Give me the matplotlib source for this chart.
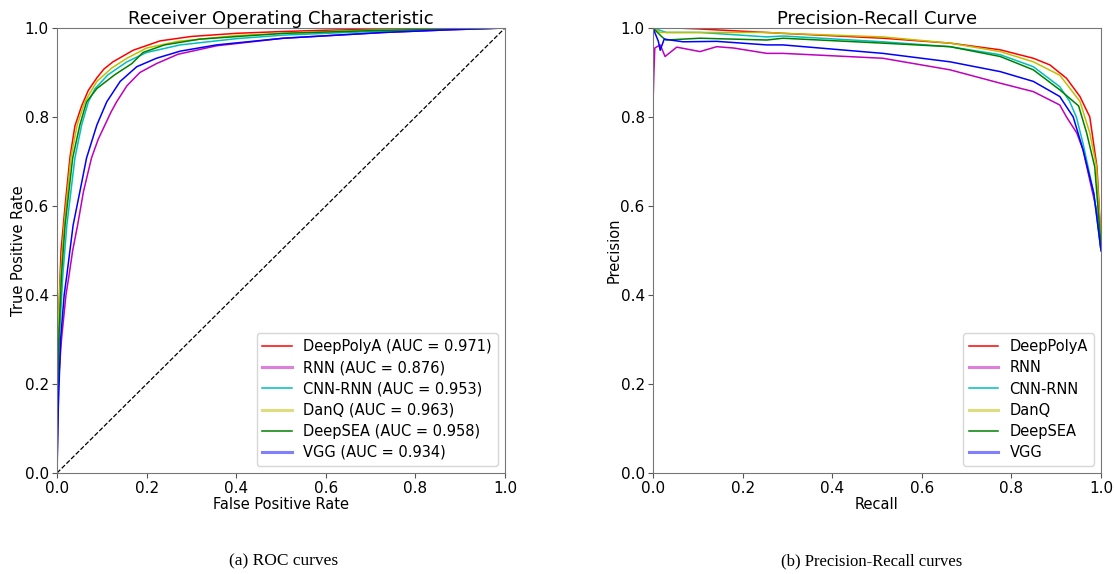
import matplotlib
matplotlib.use("Agg")
import matplotlib.pyplot as plt

models = ["DeepPolyA", "RNN", "CNN-RNN", "DanQ", "DeepSEA", "VGG"]
aucs = [0.971, 0.876, 0.953, 0.963, 0.958, 0.934]
colors = ["r", "m", "c", "y", "g", "b"]

# ROC curves (false positive rate, true positive rate)
roc_fpr_deeppolya = [0, 0.0, 0.002, 0.007, 0.009, 0.018, 0.029, 0.04, 0.055, 0.07, 0.089, 0.105, 0.125, 0.17, 0.23, 0.3, 0.4, 0.5, 0.6, 0.7, 0.8, 0.9, 1.0]
roc_tpr_deeppolya = [0, 0.15, 0.3, 0.445, 0.5, 0.6, 0.71, 0.78, 0.825, 0.86, 0.888, 0.908, 0.924, 0.95, 0.971, 0.981, 0.988, 0.992, 0.995, 0.997, 0.998, 0.999, 1.0]
roc_fpr_rnn = [0, 0.003, 0.01, 0.02, 0.027, 0.035, 0.046, 0.059, 0.077, 0.092, 0.107, 0.12, 0.133, 0.156, 0.185, 0.222, 0.27, 0.356, 0.505, 0.73, 0.877, 1.0]
roc_tpr_rnn = [0, 0.2, 0.3, 0.4, 0.445, 0.5, 0.557, 0.632, 0.708, 0.75, 0.782, 0.81, 0.834, 0.87, 0.9, 0.92, 0.941, 0.96, 0.977, 0.99, 0.996, 1.0]
roc_fpr_cnnrnn = [0, 0.001, 0.005, 0.013, 0.022, 0.04, 0.055, 0.07, 0.085, 0.114, 0.156, 0.2, 0.275, 0.4, 0.505, 0.65, 0.8, 1.0]
roc_tpr_cnnrnn = [0, 0.15, 0.3, 0.445, 0.557, 0.708, 0.782, 0.834, 0.864, 0.895, 0.924, 0.945, 0.962, 0.976, 0.984, 0.99, 0.995, 1.0]
roc_fpr_danq = [0, 0.0, 0.002, 0.008, 0.016, 0.031, 0.045, 0.062, 0.089, 0.122, 0.156, 0.2, 0.27, 0.4, 0.55, 0.7, 0.85, 1.0]
roc_tpr_danq = [0, 0.2, 0.32, 0.445, 0.557, 0.708, 0.782, 0.834, 0.88, 0.91, 0.932, 0.955, 0.97, 0.983, 0.99, 0.995, 0.998, 1.0]
roc_fpr_deepsea = [0, 0.001, 0.004, 0.01, 0.018, 0.035, 0.051, 0.066, 0.089, 0.129, 0.167, 0.192, 0.24, 0.319, 0.505, 0.7, 0.85, 1.0]
roc_tpr_deepsea = [0, 0.15, 0.3, 0.445, 0.557, 0.708, 0.782, 0.834, 0.864, 0.895, 0.92, 0.945, 0.962, 0.975, 0.988, 0.994, 0.997, 1.0]
roc_fpr_vgg = [0, 0.003, 0.008, 0.016, 0.022, 0.036, 0.051, 0.066, 0.089, 0.111, 0.141, 0.178, 0.222, 0.275, 0.356, 0.505, 0.73, 0.877, 1.0]
roc_tpr_vgg = [0, 0.15, 0.3, 0.4, 0.445, 0.557, 0.632, 0.708, 0.782, 0.834, 0.88, 0.913, 0.932, 0.948, 0.962, 0.977, 0.99, 0.996, 1.0]

# Precision-recall curves (recall, precision)
pr_rec_deeppolya = [0, 0.05, 0.1, 0.29, 0.513, 0.663, 0.775, 0.849, 0.886, 0.923, 0.953, 0.975, 0.991, 0.998, 1.0]
pr_prec_deeppolya = [1.0, 1.0, 0.998, 0.988, 0.977, 0.966, 0.951, 0.932, 0.917, 0.887, 0.846, 0.80, 0.688, 0.56, 0.5]
pr_rec_rnn = [0, 0.002, 0.004, 0.016, 0.027, 0.053, 0.105, 0.142, 0.18, 0.254, 0.29, 0.513, 0.663, 0.775, 0.849, 0.908, 0.923, 0.946, 0.96, 0.975, 0.99, 1.0]
pr_prec_rnn = [0.83, 0.9, 0.955, 0.962, 0.936, 0.957, 0.947, 0.958, 0.955, 0.943, 0.943, 0.932, 0.906, 0.876, 0.857, 0.827, 0.80, 0.764, 0.726, 0.658, 0.591, 0.5]
pr_rec_cnnrnn = [0, 0.03, 0.105, 0.254, 0.29, 0.513, 0.663, 0.775, 0.849, 0.908, 0.93, 0.945, 0.96, 0.984, 1.0]
pr_prec_cnnrnn = [1.0, 0.99, 0.99, 0.98, 0.982, 0.969, 0.958, 0.94, 0.913, 0.868, 0.835, 0.80, 0.74, 0.628, 0.5]
pr_rec_danq = [0, 0.016, 0.067, 0.254, 0.29, 0.513, 0.663, 0.775, 0.849, 0.908, 0.953, 0.975, 0.99, 1.0]
pr_prec_danq = [1.0, 0.99, 0.99, 0.99, 0.988, 0.98, 0.966, 0.947, 0.924, 0.894, 0.835, 0.764, 0.688, 0.52]
pr_rec_deepsea = [0, 0.02, 0.029, 0.105, 0.254, 0.29, 0.513, 0.663, 0.775, 0.849, 0.908, 0.95, 0.968, 0.986, 1.0]
pr_prec_deepsea = [1.0, 0.98, 0.973, 0.977, 0.973, 0.977, 0.966, 0.958, 0.936, 0.906, 0.861, 0.825, 0.764, 0.688, 0.51]
pr_rec_vgg = [0, 0.012, 0.016, 0.025, 0.067, 0.142, 0.254, 0.29, 0.513, 0.663, 0.775, 0.849, 0.908, 0.938, 0.96, 0.984, 1.0]
pr_prec_vgg = [1.0, 0.97, 0.95, 0.975, 0.969, 0.97, 0.962, 0.962, 0.943, 0.924, 0.902, 0.88, 0.846, 0.80, 0.726, 0.628, 0.5]

roc_data = [
    (roc_fpr_deeppolya, roc_tpr_deeppolya),
    (roc_fpr_rnn, roc_tpr_rnn),
    (roc_fpr_cnnrnn, roc_tpr_cnnrnn),
    (roc_fpr_danq, roc_tpr_danq),
    (roc_fpr_deepsea, roc_tpr_deepsea),
    (roc_fpr_vgg, roc_tpr_vgg),
]
pr_data = [
    (pr_rec_deeppolya, pr_prec_deeppolya),
    (pr_rec_rnn, pr_prec_rnn),
    (pr_rec_cnnrnn, pr_prec_cnnrnn),
    (pr_rec_danq, pr_prec_danq),
    (pr_rec_deepsea, pr_prec_deepsea),
    (pr_rec_vgg, pr_prec_vgg),
]
ticks = [0.0, 0.2, 0.4, 0.6, 0.8, 1.0]

plt.rcParams["font.family"] = ["DejaVu Sans"]
fig = plt.figure(figsize=(11.14, 5.74), dpi=100)
ax1 = fig.add_axes([57 / 1114, 1 - 473 / 574, 448 / 1114, 445 / 574])
ax2 = fig.add_axes([653 / 1114, 1 - 473 / 574, 448 / 1114, 445 / 574])

thick = {1, 3, 5}

for name, auc, col, (x, y) in zip(models, aucs, colors, roc_data):
    ax1.plot(x, y, color=col, lw=1.1, label=f"{name} (AUC = {auc:.3f})")
ax1.plot([0, 1], [0, 1], "k--", lw=0.9)

for name, col, (x, y) in zip(models, colors, pr_data):
    ax2.plot(x, y, color=col, lw=1.1, label=name)

for ax, title, xl, yl in [
    (ax1, "Receiver Operating Characteristic", "False Positive Rate", "True Positive Rate"),
    (ax2, "Precision-Recall Curve", "Recall", "Precision"),
]:
    ax.set_xlim(0, 1)
    ax.set_ylim(0, 1)
    ax.set_xticks(ticks)
    ax.set_yticks(ticks)
    ax.tick_params(labelsize=11, color="#555555", pad=2.5)
    ax.set_title(title, fontsize=13, pad=2)
    ax.set_xlabel(xl, fontsize=10.5, labelpad=0.5)
    ax.set_ylabel(yl, fontsize=10.5, labelpad=-1)
    for s in ax.spines.values():
        s.set_color("#777777")
    leg = ax.legend(loc="lower right", fontsize=10.5, framealpha=0.8,
                    borderaxespad=0.5, labelspacing=0.42)
    for j, h in enumerate(leg.legend_handles):
        if j in thick:
            h.set_alpha(0.5)
            h.set_linewidth(2.2)

fig.text(284 / 1114, 1 - 561 / 574, "(a) ROC curves", ha="center", va="center",
         family="Liberation Serif", fontsize=12.5)
fig.text(872 / 1114, 1 - 561 / 574, "(b) Precision-Recall curves", ha="center", va="center",
         family="Liberation Serif", fontsize=12)

fig.savefig("out.png", dpi=100)
